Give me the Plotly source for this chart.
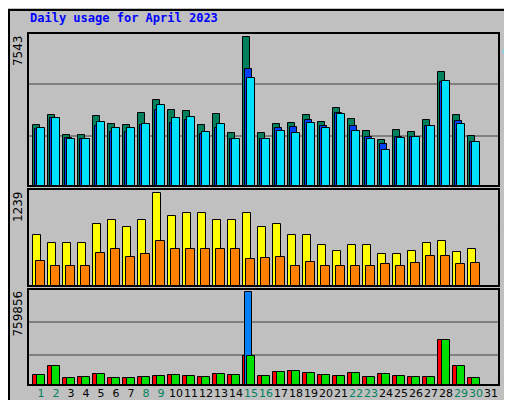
import plotly.graph_objects as go

days = list(range(1, 32))
hits_px = [181,211,151,151,208,184,181,217,256,226,223,181,214,157,442,157,184,187,211,190,232,199,163,136,166,160,196,340,211,148]
files_px = [170,202,142,139,179,160,160,181,226,187,196,154,172,139,349,139,172,175,196,178,217,178,145,124,145,145,178,310,193,130]
pages_px = [173,202,139,139,190,172,172,184,241,202,205,160,184,139,322,139,163,157,187,172,214,163,139,106,142,145,178,313,184,130]
K = 7543/442
hits = [round(v*K) for v in hits_px]
files = [round(v*K) for v in files_px]
pages = [round(v*K) for v in pages_px]

vis_top = [226,234,234,234,215,211,218,211,184,207,204,204,211,211,204,218,215,226,226,236,241,236,236,244,244,241,234,232,242,240]
site_top = [251,256,256,256,243,239,247,244,232,239,239,239,239,239,249,248,247,256,252,256,256,256,256,254,256,253,246,246,254,253]
visits = [round((276-t)/92*1239) for t in vis_top]
sites = [round((276-t)/92*1239) for t in site_top]

out_top = [286,259,295,292,283,295,295,292,289,286,289,292,283,286,232,289,277,274,280,286,289,280,292,283,289,292,292,184,259,295]
kb_out = [round((316-t)/273*759856) for t in out_top]
kb_f = kb_out[:]
kb_in = [3000]*30
kb_in[14] = 759856

d = days[:30]
weekend = {1,2,8,9,15,16,22,23,29,30}
ticktext = [f"<span style='color:#00805c'>{i}</span>" if i in weekend else str(i) for i in days]

fig = go.Figure()
line = dict(color="black", width=1)
def bar(y, color, off, w, xa, ya):
    fig.add_bar(x=d, y=y, marker=dict(color=color, line=line), offset=off, width=w,
                xaxis=xa, yaxis=ya, showlegend=False, hoverinfo="skip")

bar(hits, "#00805c", -0.55, 0.5, "x", "y")
bar(files, "#0040ff", -0.42, 0.5, "x", "y")
bar(pages, "#00e0ff", -0.29, 0.55, "x", "y")
bar(visits, "#ffff00", -0.55, 0.52, "x2", "y2")
bar(sites, "#ff8000", -0.35, 0.6, "x2", "y2")
bar(kb_f, "#ff0000", -0.55, 0.5, "x3", "y3")
bar(kb_in, "#0080ff", -0.42, 0.5, "x3", "y3")
bar(kb_out, "#00e000", -0.29, 0.55, "x3", "y3")

H = 352
def dom(top, bot):
    return [(377-bot)/H, (377-top)/H]

xr = [0.133, 31.53]
common_x = dict(range=xr, showgrid=False, zeroline=False, fixedrange=True, automargin=False)
fig.update_layout(
    width=512, height=400, margin=dict(l=20, r=21, t=25, b=23, autoexpand=False),
    paper_bgcolor="#c0c0c0", plot_bgcolor="#c0c0c0", bargap=0,
    font=dict(family="DejaVu Sans Mono", size=12, color="black"),
    xaxis=dict(**common_x, showticklabels=False, anchor="y"),
    xaxis2=dict(**common_x, showticklabels=False, anchor="y2"),
    xaxis3=dict(**common_x, anchor="y3", tickvals=days, ticktext=ticktext, ticks="", tickangle=0,
                tickfont=dict(family="DejaVu Sans", size=11)),
    yaxis=dict(domain=dom(25, 178), range=[0, 7543*1.03], tickvals=[7543*0.338, 7543*0.685], automargin=False,
               showticklabels=False, gridcolor="#808080", gridwidth=1.5, zeroline=False),
    yaxis2=dict(domain=dom(181, 278), range=[0, 1239*1.04], tickvals=[], automargin=False,
                showticklabels=False, zeroline=False),
    yaxis3=dict(domain=dom(281, 377), range=[0, 759856*1.03], tickvals=[759856*0.32, 759856*0.68], automargin=False,
                showticklabels=False, gridcolor="#808080", gridwidth=1.5, zeroline=False),
)
shapes = [dict(type="rect", xref="paper", yref="paper", x0=-19/471, x1=1+19/471, y0=-21/352, y1=1+23/352,
               line=dict(color="black", width=2))]
for ya in ["y", "y2", "y3"]:
    shapes.append(dict(type="rect", xref="x domain", yref=ya+" domain", x0=0, x1=1, y0=0, y1=1,
                       line=dict(color="black", width=2)))
fig.update_layout(shapes=shapes)

ann = [
    dict(text="<b>Daily usage for April 2023</b>", x=0, y=1+15/352, xref="paper", yref="paper",
         xanchor="left", yanchor="middle", showarrow=False,
         font=dict(color="#0000ff", size=12, family="DejaVu Sans Mono")),
]
for ya, t in [("y", "7543"), ("y2", "1239"), ("y3", "759856")]:
    ann.append(dict(text=t, x=-0.003, y=1, xref="paper", yref=ya+" domain", xanchor="right", yanchor="top",
                    textangle=-90, showarrow=False, font=dict(size=12, family="DejaVu Sans")))
rl = [("y", "<span style='color:#00e0ff'>Pages</span> / <span style='color:#0040ff'>Files</span> / <span style='color:#00805c'>Hits</span>"),
      ("y2", "<span style='color:#ff8000'>Sites</span> / <span style='color:#ffff00'>Visits</span>"),
      ("y3", "<span style='color:#ff0000'>kB F</span> / <span style='color:#0080ff'>kB In</span> / <span style='color:#00e000'>kB Out</span>")]
for ya, t in rl:
    ann.append(dict(text=t, x=1.002, y=1, xref="paper", yref=ya+" domain", xanchor="left", yanchor="top",
                    textangle=90, showarrow=False, font=dict(size=11, family="DejaVu Sans Mono")))
fig.update_layout(annotations=ann)
fig.write_html("out.html")
